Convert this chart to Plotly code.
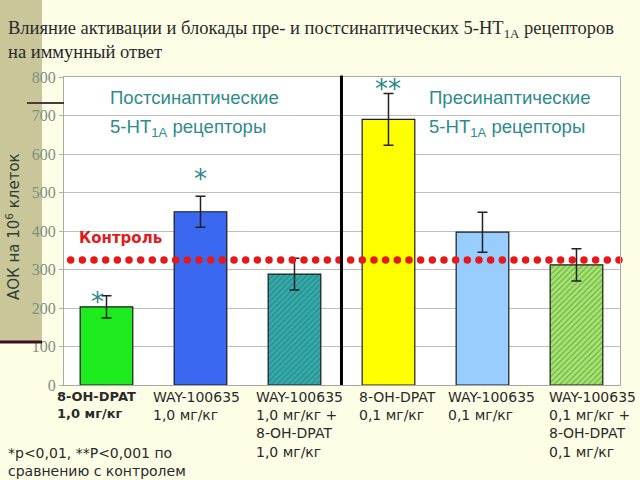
import numpy as np
import plotly.graph_objects as go

# ---- data ----
categories = [
    "8-OH-DPAT<br>1,0 мг/кг",
    "WAY-100635<br>1,0 мг/кг",
    "WAY-100635<br>1,0 мг/кг +<br>8-OH-DPAT<br>1,0 мг/кг",
    "8-OH-DPAT<br>0,1 мг/кг",
    "WAY-100635<br>0,1 мг/кг",
    "WAY-100635<br>0,1 мг/кг +<br>8-OH-DPAT<br>0,1 мг/кг",
]
values = [203, 450, 288, 690, 397, 312]
errors = [29, 40, 41, 67, 52, 42]
significance = ["*", "*", "", "**", "", ""]
control_value = 325
y_ticks = [0, 100, 200, 300, 400, 500, 600, 700, 800]

bar_colors = ["#1EEB1E", "#3A68F0", "#2EAEAE", "#FFFF00", "#99CCFF", "#A2EA6A"]
pattern_shapes = ["", "", "/", "", "", "/"]

W, H = 640, 480
L, R, T, B = 64, 20, 77, 95
PW, PH = W - L - R, H - T - B


def px(x):
    return (x - L) / PW


def py(y):
    return (H - B - y) / PH


xs = list(range(len(values)))
x_range = [-0.452, 5.463]

fig = go.Figure()

fig.add_trace(go.Bar(
    x=xs, y=values, width=0.56,
    marker=dict(
        color=bar_colors,
        line=dict(color="#1a1a1a", width=1.2),
        pattern=dict(shape=pattern_shapes, fgcolor="#1E6A40", fgopacity=0.42,
                     size=4, solidity=0.3, fillmode="overlay"),
    ),
    error_y=dict(type="data", array=errors, visible=True, color="#222222",
                 thickness=1.5, width=5),
    showlegend=False, hoverinfo="skip",
))

# control dotted line (dots spread over the plot width)
dot_x = np.linspace(-0.381, 5.452, 48)
fig.add_trace(go.Scatter(
    x=dot_x, y=[control_value] * len(dot_x), mode="markers",
    marker=dict(color="#E41A1A", size=7.5),
    cliponaxis=False, showlegend=False, hoverinfo="skip",
))

annotations = []

# bottom category labels
label_left = [55, 151, 254, 357, 446, 547]
for i, (lab, lx) in enumerate(zip(categories, label_left)):
    txt = "<b>" + lab + "</b>" if i == 0 else lab
    annotations.append(dict(
        x=px(lx), y=py(387), xref="paper", yref="paper",
        xanchor="left", yanchor="top", align="left", showarrow=False,
        text=txt,
        font=dict(family="DejaVu Sans", size=13 if i == 0 else 14, color="#2a2a2a"),
    ))

# significance stars
star_dx = [-0.1, 0, 0, 0, 0, 0]
star_shift = [-23, 0, 0, -12, 0, 0]
for i, s in enumerate(significance):
    if s:
        annotations.append(dict(
            x=xs[i] + star_dx[i], y=values[i] + errors[i], xref="x", yref="y",
            xanchor="center", yanchor="bottom", showarrow=False, yshift=star_shift[i],
            text=s, font=dict(family="DejaVu Sans", size=26, color="#2A8A8A"),
        ))

# group headers
for gx, name in [(108, "Постсинаптические"), (427, "Пресинаптические")]:
    annotations.append(dict(
        x=px(gx), y=py(97), xref="paper", yref="paper", xanchor="left",
        yanchor="middle", showarrow=False, text=name,
        font=dict(family="Liberation Sans", size=18.6, color="#2E8B8B"),
    ))
    annotations.append(dict(
        x=px(gx), y=py(128), xref="paper", yref="paper", xanchor="left",
        yanchor="middle", showarrow=False, text="5-HT<sub>1A</sub> рецепторы",
        font=dict(family="Liberation Sans", size=18.6, color="#2E8B8B"),
    ))

# control label
annotations.append(dict(
    x=px(77), y=py(238), xref="paper", yref="paper", xanchor="left",
    yanchor="middle", showarrow=False, text="<b>Контроль</b>",
    font=dict(family="DejaVu Sans", size=15, color="#E41A1A"),
))

# y-axis title
annotations.append(dict(
    x=px(13), y=py(227), xref="paper", yref="paper", xanchor="center",
    yanchor="middle", showarrow=False, textangle=-90,
    text="АОК на 10<sup>6</sup> клеток",
    font=dict(family="DejaVu Sans", size=15, color="#2F3F35"),
))

# title
annotations.append(dict(
    x=px(6), y=py(16), xref="paper", yref="paper", xanchor="left",
    yanchor="top", align="left", showarrow=False,
    text="Влияние активации и блокады пре- и постсинаптических 5-HT<sub>1A</sub> рецепторов<br>на иммунный ответ",
    font=dict(family="Liberation Serif", size=18.5, color="#2a2a2a"),
))

# footnote
annotations.append(dict(
    x=px(6), y=py(443), xref="paper", yref="paper", xanchor="left",
    yanchor="top", align="left", showarrow=False,
    text="*p&lt;0,01, **P&lt;0,001 по<br>сравнению с контролем",
    font=dict(family="DejaVu Sans", size=14, color="#2a2a2a"),
))

shapes = [
    # slide template stripe and lines
    dict(type="rect", xref="paper", yref="paper", x0=px(0), x1=px(42),
         y0=py(341), y1=py(0), fillcolor="#C9C69A", line=dict(width=0), layer="below"),
    dict(type="line", xref="paper", yref="paper", x0=px(0), x1=px(42),
         y0=py(342), y1=py(342), line=dict(color="#3A1020", width=3)),
    dict(type="line", xref="paper", yref="paper", x0=px(27), x1=px(64),
         y0=py(103), y1=py(103), line=dict(color="#4A3A3A", width=2)),
    # separator between groups
    dict(type="line", xref="x", yref="paper", x0=2.5, x1=2.5, y0=0, y1=1.005,
         line=dict(color="#000000", width=3)),
]

fig.update_layout(
    width=W, height=H,
    margin=dict(l=L, r=R, t=T, b=B),
    paper_bgcolor="#FEFEE6",
    plot_bgcolor="#FFFFFF",
    annotations=annotations,
    shapes=shapes,
    xaxis=dict(range=x_range, showticklabels=False, showgrid=False, zeroline=False,
               showline=True, linecolor="#A8A8A8", mirror=True, ticks=""),
    yaxis=dict(range=[0, 800], tickvals=y_ticks, showgrid=True, gridcolor="#BEBEBE",
               gridwidth=1, zeroline=False, showline=True, linecolor="#A8A8A8",
               mirror=True, ticks="outside", ticklen=4, tickcolor="#B0B0B0",
               tickfont=dict(family="Liberation Serif", size=16, color="#7E8E80")),
    bargap=0.4,
)

fig.write_html("out.html", config={"displayModeBar": False},
               post_script="document.body.style.margin='0';")
